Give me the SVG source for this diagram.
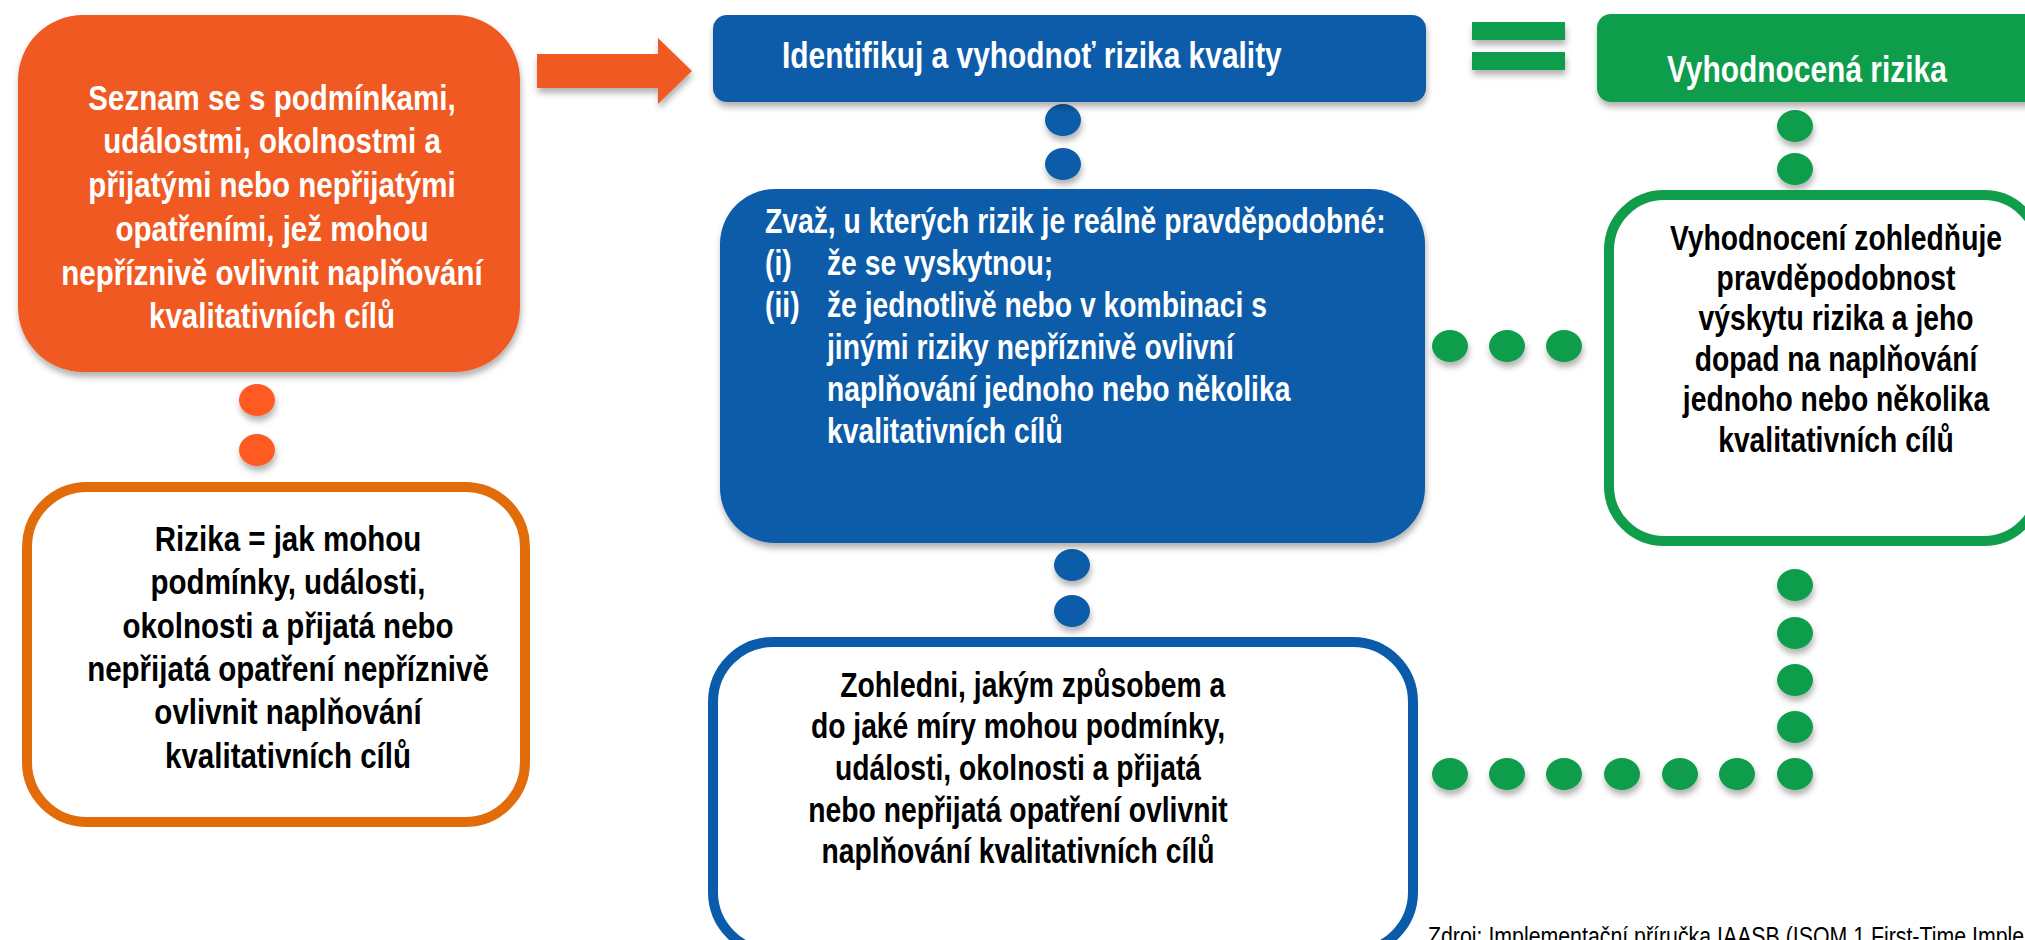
<svg xmlns="http://www.w3.org/2000/svg" width="2025" height="940" viewBox="0 0 2025 940">
<style>
text{font-family:"Liberation Sans",Arial,sans-serif;font-weight:bold;font-size:36px}
.m{font-size:34.5px}
.h{font-size:36.5px}
.w{fill:#ffffff}
.k{fill:#000000}
.c{text-anchor:middle}
.src{font-weight:normal;font-size:26px;fill:#000000}
.of{fill:#F05A24}
.oo{fill:#ffffff;stroke:#E36C0A;stroke-width:10}
.bf{fill:#0A5BA9}
.bo{fill:#ffffff;stroke:#0A5BA9;stroke-width:10}
.gf{fill:#109D4B}
.go{fill:#ffffff;stroke:#109D4B;stroke-width:10}
.od{fill:#FF5A22}
.bd{fill:#0A5BA9}
.gd{fill:#109D4B}
</style>
<defs>
<filter id="sh" x="-20%" y="-20%" width="140%" height="150%">
<feDropShadow dx="1" dy="5" stdDeviation="3" flood-color="#000" flood-opacity="0.3"/>
</filter>
</defs>
<rect width="2025" height="940" fill="#ffffff"/>

<g id="connectors" filter="url(#sh)">
<polygon class="of" points="537,54 658,54 658,38 692,71 658,104 658,88 537,88"/>
<g class="od">
<ellipse cx="257" cy="400" rx="18" ry="16"/>
<ellipse cx="257" cy="450" rx="18" ry="16"/>
</g>
<g class="bd">
<ellipse cx="1063" cy="120" rx="18" ry="16"/>
<ellipse cx="1063" cy="164" rx="18" ry="16"/>
<ellipse cx="1072" cy="565" rx="18" ry="16"/>
<ellipse cx="1072" cy="611" rx="18" ry="16"/>
</g>
<g class="gd">
<ellipse cx="1795" cy="126" rx="18" ry="16"/>
<ellipse cx="1795" cy="169" rx="18" ry="16"/>
<ellipse cx="1450" cy="346" rx="18" ry="16"/>
<ellipse cx="1507" cy="346" rx="18" ry="16"/>
<ellipse cx="1564" cy="346" rx="18" ry="16"/>
<ellipse cx="1795" cy="585" rx="18" ry="16"/>
<ellipse cx="1795" cy="633" rx="18" ry="16"/>
<ellipse cx="1795" cy="680" rx="18" ry="16"/>
<ellipse cx="1795" cy="727" rx="18" ry="16"/>
<ellipse cx="1450" cy="774" rx="18" ry="16"/>
<ellipse cx="1507" cy="774" rx="18" ry="16"/>
<ellipse cx="1564" cy="774" rx="18" ry="16"/>
<ellipse cx="1622" cy="774" rx="18" ry="16"/>
<ellipse cx="1680" cy="774" rx="18" ry="16"/>
<ellipse cx="1737" cy="774" rx="18" ry="16"/>
<ellipse cx="1795" cy="774" rx="18" ry="16"/>
</g>
</g>

<g id="equals" filter="url(#sh)">
<rect class="gf" x="1472" y="22" width="93" height="18"/>
<rect class="gf" x="1472" y="52" width="93" height="18"/>
</g>

<g id="node-conditions">
<rect class="of" x="18" y="15" width="502" height="357" rx="65" filter="url(#sh)"/>
<g transform="translate(272 0) scale(0.82 1)">
<text class="w c" x="0" y="110">Seznam se s podmínkami,</text>
<text class="w c" x="0" y="153">událostmi, okolnostmi a</text>
<text class="w c" x="0" y="197">přijatými nebo nepřijatými</text>
<text class="w c" x="0" y="241">opatřeními, jež mohou</text>
<text class="w c" x="0" y="285">nepříznivě ovlivnit naplňování</text>
<text class="w c" x="0" y="328">kvalitativních cílů</text>
</g>
</g>

<g id="node-risks-def">
<rect class="oo" x="27" y="487" width="498" height="335" rx="60"/>
<g transform="translate(288 0) scale(0.82 1)">
<text class="k c" x="0" y="551">Rizika = jak mohou</text>
<text class="k c" x="0" y="594">podmínky, události,</text>
<text class="k c" x="0" y="638">okolnosti a přijatá nebo</text>
<text class="k c" x="0" y="681">nepřijatá opatření nepříznivě</text>
<text class="k c" x="0" y="724">ovlivnit naplňování</text>
<text class="k c" x="0" y="768">kvalitativních cílů</text>
</g>
</g>

<g id="node-identify">
<rect class="bf" x="713" y="15" width="713" height="87" rx="14" filter="url(#sh)"/>
<g transform="translate(782 0) scale(0.82 1)">
<text class="w h" x="0" y="68">Identifikuj a vyhodnoť rizika kvality</text>
</g>
</g>

<g id="node-consider">
<rect class="bf" x="720" y="189" width="705" height="354" rx="55" filter="url(#sh)"/>
<g transform="translate(765 0) scale(0.82 1)">
<text class="w m" x="0" y="233">Zvaž, u kterých rizik je reálně pravděpodobné:</text>
<text class="w m" x="0" y="275">(i)</text>
<text class="w m" x="75.6" y="275">že se vyskytnou;</text>
<text class="w m" x="0" y="317">(ii)</text>
<text class="w m" x="75.6" y="317">že jednotlivě nebo v kombinaci s</text>
<text class="w m" x="75.6" y="359">jinými riziky nepříznivě ovlivní</text>
<text class="w m" x="75.6" y="401">naplňování jednoho nebo několika</text>
<text class="w m" x="75.6" y="443">kvalitativních cílů</text>
</g>
</g>

<g id="node-how">
<rect class="bo" x="713" y="642" width="700" height="310" rx="60"/>
<g transform="translate(1018 0) scale(0.82 1)">
<text class="k c m" x="18" y="697">Zohledni, jakým způsobem a</text>
<text class="k c m" x="0" y="738">do jaké míry mohou podmínky,</text>
<text class="k c m" x="0" y="780">události, okolnosti a přijatá</text>
<text class="k c m" x="0" y="822">nebo nepřijatá opatření ovlivnit</text>
<text class="k c m" x="0" y="863">naplňování kvalitativních cílů</text>
</g>
</g>

<g id="node-assessed">
<rect class="gf" x="1597" y="14" width="450" height="88" rx="14" filter="url(#sh)"/>
<g transform="translate(1667 0) scale(0.82 1)">
<text class="w h" x="0" y="82">Vyhodnocená rizika</text>
</g>
</g>

<g id="node-assessment">
<rect class="go" x="1609" y="195" width="430" height="346" rx="55"/>
<g transform="translate(1836 0) scale(0.82 1)">
<text class="k c m" x="0" y="250">Vyhodnocení zohledňuje</text>
<text class="k c m" x="0" y="290">pravděpodobnost</text>
<text class="k c m" x="0" y="330">výskytu rizika a jeho</text>
<text class="k c m" x="0" y="371">dopad na naplňování</text>
<text class="k c m" x="0" y="411">jednoho nebo několika</text>
<text class="k c m" x="0" y="452">kvalitativních cílů</text>
</g>
</g>

<g id="source">
<g transform="translate(1428 0) scale(0.82 1)">
<text class="src" x="0" y="945">Zdroj: Implementační příručka IAASB (ISQM 1 First-Time Imple</text>
</g>
</g>
</svg>
